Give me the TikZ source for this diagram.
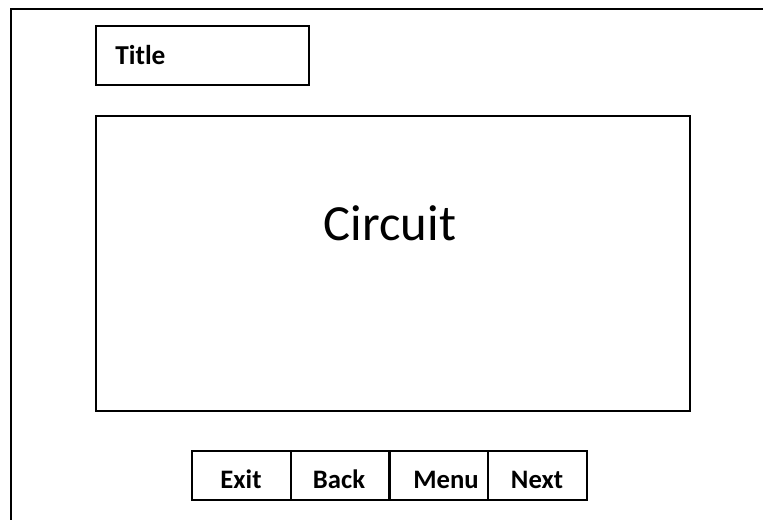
\documentclass[tikz,border=0pt]{standalone}
\usepackage{fontspec}
\setmainfont{Carlito}
\begin{document}
\begin{tikzpicture}[x=0.75pt,y=-0.75pt,
  frame/.style={draw=black,line width=1.5pt},
  box/.style={draw=black,line width=1.6pt},
  btn/.style={draw=black,line width=1.4pt,minimum width=74.25pt,minimum height=36.75pt,inner sep=0pt,anchor=north west},
  btntext/.style={font=\fontsize{20}{24}\selectfont\bfseries,anchor=base}]
\useasboundingbox (0,0) rectangle (763,520);
\fill[white] (0,0) rectangle (763,520);
\coordinate (o1) at (11,520);
\coordinate (o2) at (11,9);
\coordinate (o3) at (763,9);
\draw[frame] (o1) -- (o2) -- (o3);
\node[box,anchor=north west,minimum width=159.75pt,minimum height=44.25pt,inner sep=0pt] (title) at (95,25) {};
\node[font=\fontsize{20.5}{24}\selectfont\bfseries,anchor=base west,inner sep=0pt] (titletext) at (115,65) {Title};
\node[box,anchor=north west,minimum width=445.5pt,minimum height=221.25pt,inner sep=0pt] (circuit) at (95,115) {};
\node[font=\fontsize{38}{44}\selectfont,anchor=base,inner sep=0pt] (circuittext) at (390,241) {Circuit};
\node[btn] (exit) at (191,450) {};
\node[btn] (back) at (290,450) {};
\node[btn] (menu) at (388,450) {};
\node[btn] (next) at (487,450) {};
\node[btntext,inner sep=0pt] (exittext) at (241,488) {Exit};
\node[btntext,inner sep=0pt] (backtext) at (339,488) {Back};
\node[btntext,inner sep=0pt] (menutext) at (446,488) {Menu};
\node[btntext,inner sep=0pt] (nexttext) at (537,488) {Next};
\end{tikzpicture}
\end{document}
